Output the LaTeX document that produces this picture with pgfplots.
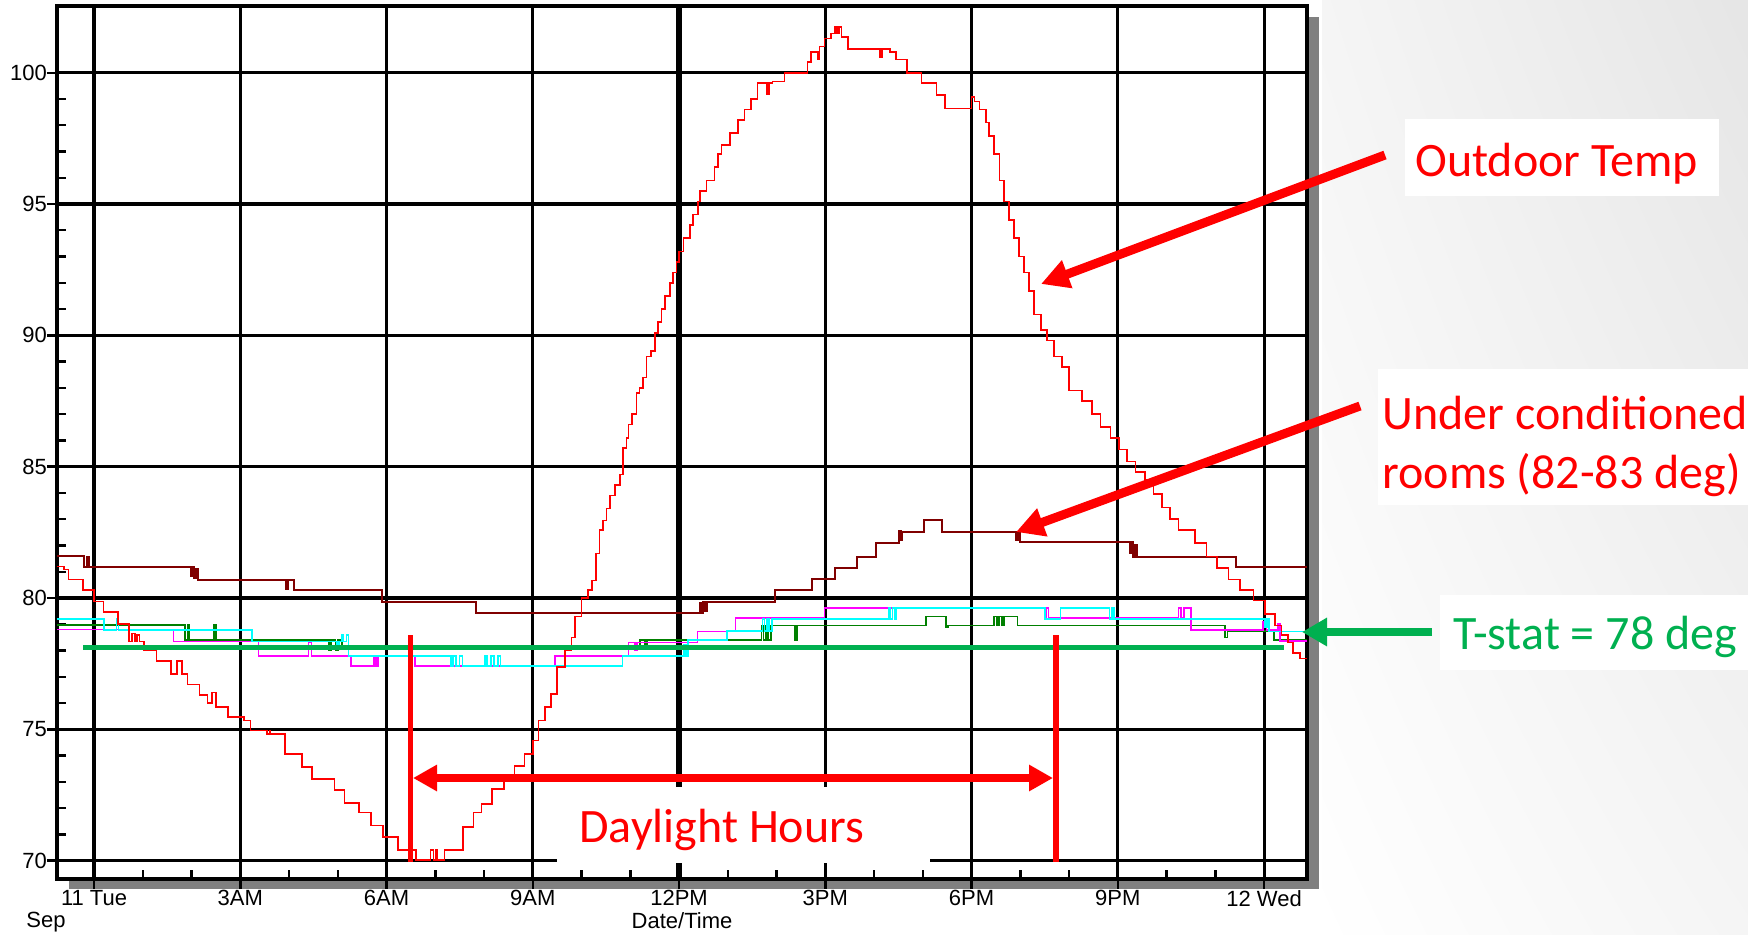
\documentclass[border=0pt]{standalone}
\usepackage{fontspec}
\setmainfont{Liberation Sans}
\newfontfamily\calibri{Carlito}
\usepackage{pgfplots}
\pgfplotsset{compat=1.18}
\usetikzlibrary{arrows.meta,shadings}
\definecolor{tgreen}{HTML}{00B050}
\definecolor{dgreen}{HTML}{008000}
\definecolor{maroon}{HTML}{800000}
\definecolor{cyanc}{RGB}{0,255,255}
\definecolor{magc}{RGB}{255,0,255}
\definecolor{redc}{RGB}{255,0,0}
\definecolor{shadowgray}{HTML}{808080}
\begin{document}
\begin{tikzpicture}
\useasboundingbox (0,0) rectangle (874pt,467pt);
% background (pixel coordinates of the 1748x934 image, y downwards)
\begin{scope}[x=0.5pt,y=-0.5pt,shift={(0,467pt)}]
  \fill[white] (0,0) rectangle (1748,934);
  \shade[upper left=black!4, upper right=black!10, lower left=white, lower right=black!4] (1322,0) rectangle (1748,934);
  \fill[shadowgray] (69,17) rectangle (1319,889);
\end{scope}
\begin{axis}[
  at={(28.5pt,27.5pt)}, anchor=south west,
  scale only axis, width=625pt, height=436.5pt,
  xmin=-0.76, xmax=24.88, ymin=69.3, ymax=102.54,
  axis background/.style={fill=white},
  axis line style={line width=1.6pt},
  xtick={0,3,...,24},
  xticklabels={11 Tue,3AM,6AM,9AM,12PM,3PM,6PM,9PM,12 Wed},
  minor x tick num=2,
  ytick={70,75,...,100},
  minor y tick num=4,
  xtick pos=left, ytick pos=left,
  tick align=inside,
  major tick length=13pt,
  minor tick length=4.5pt,
  every tick/.style={black, line width=1.2pt},
  every major x tick/.append style={yshift=-5pt},
  every major y tick/.append style={xshift=-5pt},
  grid=major,
  major grid style={black, line width=1.6pt},
  tick label style={font=\fontsize{11}{13}\selectfont},
  /pgf/number format/assume math mode=true,
  xticklabel style={yshift=-2pt},
  yticklabel style={xshift=-1.5pt},
  xlabel={Date/Time},
  xlabel style={font=\fontsize{11}{13}\selectfont, yshift=3.5pt},
  extra x ticks={12}, extra x tick labels={},
  extra x tick style={major grid style={black, line width=2.8pt}},
  no markers,
]
% other rooms
\addplot[const plot, dgreen, line width=0.8pt] coordinates {
(-0.76,78.97) (1.86,78.4) (1.92,78.97) (1.95,78.4) (2.46,78.97) (2.50,78.4)
(4.82,78.0) (4.86,78.4) (4.95,78.0) (5.00,78.4) (5.08,78.05)
(11.20,78.4) (11.30,78.1) (11.34,78.4)
(13.69,78.95) (13.73,78.4) (13.78,78.95) (13.82,78.4) (13.88,78.95)
(14.38,78.4) (14.42,78.95)
(17.06,79.29) (17.48,78.9) (17.52,78.95)
(18.46,79.29) (18.52,78.95) (18.56,79.29) (18.62,78.95) (18.66,79.29) (18.94,78.95)
(23.20,78.5) (23.25,78.75) (24.20,78.4) (24.88,78.4)};
\addplot[const plot, magc, line width=0.8pt] coordinates {
(-0.76,78.8) (1.63,78.34) (3.37,77.8) (4.40,78.3) (4.46,77.8)
(5.27,77.4) (5.74,77.8) (5.78,77.4) (5.82,77.8) (6.58,77.4)
(9.46,77.8) (10.96,78.3) (11.10,78.0) (11.14,78.3)
(12.38,78.73) (13.16,79.23) (14.98,79.62)
(19.50,79.23) (19.54,79.62) (19.58,79.23)
(22.24,79.62) (22.30,79.23) (22.36,79.62) (22.50,78.78)
(23.98,79.1) (24.05,78.78) (24.29,79.0) (24.33,78.37) (24.88,78.37)};
\addplot[const plot, cyanc, line width=0.8pt] coordinates {
(-0.76,79.2) (0.20,78.77) (0.46,79.2) (0.50,78.77)
(3.24,78.34) (4.98,78.05) (5.02,78.34) (5.08,78.6) (5.12,78.34) (5.18,78.6)
(5.22,77.8) (7.32,77.4) (7.36,77.8) (7.42,77.4) (7.50,77.8) (7.56,77.4)
(8.02,77.8) (8.06,77.4) (8.14,77.8) (8.20,77.4) (8.28,77.8) (8.34,77.4)
(10.84,77.8) (12.10,78.2) (12.14,77.8) (12.18,78.39)
(12.98,78.74) (13.71,79.2) (13.75,78.74) (13.80,79.2) (13.84,78.74) (13.90,79.21)
(16.30,79.62) (16.34,79.21) (16.38,79.62) (16.42,79.21) (16.45,79.62)
(19.50,79.21) (19.82,79.62) (20.83,79.21) (20.88,79.62) (20.92,79.21)
(24.02,78.9) (24.06,79.21) (24.10,78.73) (24.88,78.73)};
% under conditioned rooms
\addplot[const plot, maroon, line width=1pt] coordinates {
(-0.76,81.6) (-0.20,81.18) (-0.14,81.55) (-0.10,81.18)
(1.99,80.85) (2.03,81.18) (2.06,80.75) (2.10,81.1) (2.14,80.7)
(3.93,80.35) (3.97,80.7) (4.10,80.29) (5.91,79.85) (7.84,79.43)
(12.42,79.8) (12.46,79.43) (12.50,79.84) (12.53,79.5) (12.57,79.84)
(13.96,80.3) (14.72,80.72) (15.19,81.15) (15.65,81.57) (16.04,82.1)
(16.52,82.55) (16.55,82.2) (16.58,82.53) (17.02,82.97) (17.40,82.53)
(18.92,82.2) (18.96,82.53) (19.00,82.12)
(21.24,81.7) (21.28,82.12) (21.32,81.57) (21.36,82.0) (21.40,81.57)
(23.43,81.17) (24.88,81.17)};
% outdoor temperature
\addplot[const plot, redc, line width=0.8pt] coordinates {
(-0.76,81.2) (-0.62,81.08) (-0.52,80.7) (-0.23,80.3) (0.0,79.87) (0.19,79.47)
(0.49,79.0) (0.72,78.35) (0.78,78.65) (0.84,78.35) (0.88,78.6) (0.93,78.35)
(1.02,78.0) (1.28,77.6) (1.58,77.1) (1.70,77.6) (1.80,77.1) (1.92,76.7)
(2.16,76.3) (2.33,76.0) (2.42,76.4) (2.50,75.85) (2.75,75.46) (3.08,75.34)
(3.21,74.96) (3.55,74.83) (3.60,74.96) (3.62,74.83) (3.92,74.07) (4.26,73.56)
(4.47,73.1) (4.93,72.7) (5.14,72.2) (5.43,71.84) (5.68,71.33) (5.93,70.9)
(6.23,70.4) (6.60,70.03) (6.90,70.4) (6.96,70.03) (7.00,70.4) (7.04,70.03)
(7.19,70.4) (7.57,71.27) (7.78,71.84) (7.95,72.16) (8.16,72.73) (8.41,73.1)
(8.62,73.6) (8.83,74.07) (9.00,74.57) (9.12,75.34) (9.25,75.85) (9.37,76.35)
(9.50,77.37) (9.66,78.0) (9.79,78.5) (9.87,79.3) (10.0,80.0) (10.13,80.3)
(10.21,80.67) (10.30,81.7) (10.37,82.6) (10.44,82.95) (10.51,83.4) (10.58,83.9)
(10.68,84.3) (10.79,84.7) (10.85,85.7) (10.92,86.1) (10.96,86.6) (11.03,87.0)
(11.13,87.8) (11.19,88.0) (11.26,88.4) (11.33,89.2) (11.43,89.4) (11.50,90.1)
(11.57,90.5) (11.64,91.0) (11.71,91.5) (11.81,92.0) (11.88,92.4) (11.95,92.8)
(12.00,93.2) (12.09,93.7) (12.22,94.2) (12.29,94.6) (12.39,95.1) (12.43,95.5)
(12.56,95.9) (12.73,96.4) (12.80,96.9) (12.87,97.25) (13.04,97.7) (13.21,98.2)
(13.34,98.6) (13.48,99.0) (13.61,99.6) (13.80,99.2) (13.84,99.6) (13.92,99.66)
(14.16,100.0) (14.63,100.4) (14.70,100.8) (14.85,100.5) (14.88,101.0) (14.98,101.3)
(15.12,101.5) (15.20,101.75) (15.24,101.5) (15.28,101.75) (15.33,101.37) (15.46,100.9)
(16.12,100.6) (16.16,100.9) (16.33,100.8) (16.45,100.5) (16.67,100.0) (16.97,99.6)
(17.28,99.15) (17.46,98.64) (18.00,99.07) (18.06,98.9) (18.16,98.6) (18.29,98.1)
(18.36,97.6) (18.46,96.9) (18.57,95.9) (18.67,95.1) (18.77,94.4) (18.87,93.7)
(18.97,93.0) (19.08,92.4) (19.18,91.7) (19.28,90.8) (19.42,90.2) (19.55,89.8)
(19.69,89.2) (19.86,88.8) (20.00,87.9) (20.27,87.5) (20.47,87.0) (20.64,86.5)
(20.85,86.1) (21.02,85.65) (21.19,85.2) (21.36,84.8) (21.56,84.5) (21.73,83.95)
(21.90,83.45) (22.07,83.0) (22.24,82.6) (22.58,82.1) (22.82,81.58) (23.03,81.15)
(23.27,80.7) (23.50,80.3) (23.78,79.9) (24.02,79.4) (24.22,78.95) (24.36,78.6)
(24.49,78.3) (24.59,77.9) (24.73,77.7) (24.88,77.7)};
\addplot[tgreen, line width=2.4pt] coordinates {(-0.22,78.1) (24.40,78.1)};
\end{axis}
% annotations (pixel coordinates)
\begin{scope}[x=0.5pt,y=-0.5pt,shift={(0,467pt)}]
  \node[anchor=base west, inner sep=0, font=\fontsize{11}{13}\selectfont] at (26,927) {Sep};
  % daylight
  \fill[white] (557,787) rectangle (930,863);
  \draw[redc, line width=2.7pt] (410.4,635) -- (410.4,862);
  \draw[redc, line width=2.7pt] (1055.8,635) -- (1055.8,862);
  \draw[redc, line width=4pt, {Triangle[length=12pt,width=12.5pt]}-{Triangle[length=12pt,width=12.5pt]}] (413,778) -- (1053,778);
  \node[anchor=base west, inner sep=0, text=redc, font=\calibri\fontsize{24}{29}\selectfont] at (579,842) {Daylight Hours};
  % outdoor temp
  \fill[white] (1405,119) rectangle (1719,196);
  \draw[redc, line width=4.5pt, -{Triangle[length=14pt,width=14pt]}] (1385,155) -- (1041,284);
  \node[anchor=base west, inner sep=0, text=redc, font=\calibri\fontsize{24}{29}\selectfont] at (1415,176) {Outdoor Temp};
  % under conditioned
  \fill[white] (1378,369) rectangle (1748,505);
  \draw[redc, line width=4.5pt, -{Triangle[length=14pt,width=14pt]}] (1360,406) -- (1016,532);
  \node[anchor=base west, inner sep=0, text=redc, font=\calibri\fontsize{24}{29}\selectfont] at (1382,429) {Under conditioned};
  \node[anchor=base west, inner sep=0, text=redc, font=\calibri\fontsize{24}{29}\selectfont] at (1382,488) {rooms (82-83 deg)};
  % t-stat
  \fill[white] (1440,595) rectangle (1748,670);
  \draw[tgreen, line width=3.9pt, -{Triangle[length=12.5pt,width=13.5pt]}] (1432,632) -- (1302,632);
  \node[anchor=base west, inner sep=0, text=tgreen, font=\calibri\fontsize{24}{29}\selectfont] at (1453,649) {T-stat = 78 deg};
\end{scope}
\end{tikzpicture}
\end{document}
